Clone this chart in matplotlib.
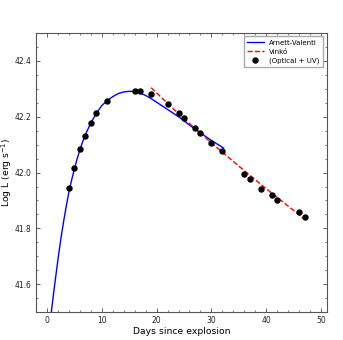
import matplotlib
matplotlib.use('Agg')
import matplotlib.pyplot as plt
from matplotlib.ticker import MultipleLocator

# bolometric light curve (optical + UV)
obs_days = [4.0, 5.0, 6.0, 7.0, 8.0, 9.0, 11.0, 16.0, 17.0, 19.0, 22.0, 24.0,
            25.0, 27.0, 28.0, 30.0, 32.0, 36.0, 37.0, 39.0, 41.0, 41.9, 46.0, 47.0]
obs_logL = [41.944, 42.015, 42.083, 42.131, 42.176, 42.212, 42.257, 42.291,
            42.291, 42.280, 42.246, 42.215, 42.197, 42.160, 42.141, 42.106,
            42.077, 41.996, 41.977, 41.941, 41.919, 41.902, 41.858, 41.840]

# Arnett-Valenti model
arnett_days = [0.8, 1.2, 1.6, 2.0, 2.4, 2.8, 3.2, 3.6, 4.0, 4.5, 5.0, 5.5,
               6.0, 6.5, 7.0, 8.0, 9.0, 10.0, 11.0, 12.0, 13.0, 14.0, 15.0,
               16.0, 17.0, 18.0, 19.0, 20.0, 22.0, 24.0, 26.0, 28.0, 30.0, 32.2]
arnett_logL = [41.500, 41.566, 41.628, 41.688, 41.744, 41.796, 41.844, 41.888,
               41.930, 41.973, 42.013, 42.049, 42.081, 42.110, 42.135, 42.178,
               42.212, 42.240, 42.258, 42.272, 42.283, 42.289, 42.291, 42.290,
               42.285, 42.276, 42.265, 42.252, 42.226, 42.200, 42.170, 42.142,
               42.115, 42.088]

# Vinko tail fit
vinko_days = [19.0, 22.0, 25.0, 30.0, 35.0, 40.0, 47.0]
vinko_logL = [42.304, 42.248, 42.193, 42.106, 42.023, 41.942, 41.833]

fig = plt.figure(figsize=(3.43, 3.40), dpi=100)
ax = fig.add_axes([0.105, 0.082, 0.847, 0.821])

ax.plot(arnett_days, arnett_logL, color='blue', lw=1.0, label='Arnett-Valenti')
ax.plot(vinko_days, vinko_logL, color='red', lw=1.0, ls='--', label='Vinkó')
ax.plot(obs_days, obs_logL, 'o', color='black', ms=3.6, ls='none',
        label='(Optical + UV)')

ax.set_xlim(-2, 51)
ax.set_ylim(41.5, 42.5)
ax.xaxis.set_major_locator(MultipleLocator(10))
ax.xaxis.set_minor_locator(MultipleLocator(2))
ax.yaxis.set_major_locator(MultipleLocator(0.2))
ax.yaxis.set_minor_locator(MultipleLocator(0.05))
ax.tick_params(which='both', direction='in', top=True, right=True,
               labelsize=5.5, colors='#444444', labelcolor='#222222', pad=3)
ax.tick_params(which='major', length=3, width=0.6)
ax.tick_params(which='minor', length=1.5, width=0.5)
for sp in ax.spines.values():
    sp.set_color('#555555')
    sp.set_linewidth(0.8)

ax.set_xlabel('Days since explosion', fontsize=6.7, labelpad=1.5)
ax.set_ylabel('Log L (erg s$^{-1}$)', fontsize=6.7, labelpad=0.5)

ax.legend(loc='upper right', fontsize=5, handlelength=2.4, borderpad=0.5,
          labelspacing=0.4, framealpha=1, edgecolor='#aaaaaa', fancybox=False)

fig.savefig('out.png', dpi=100)
